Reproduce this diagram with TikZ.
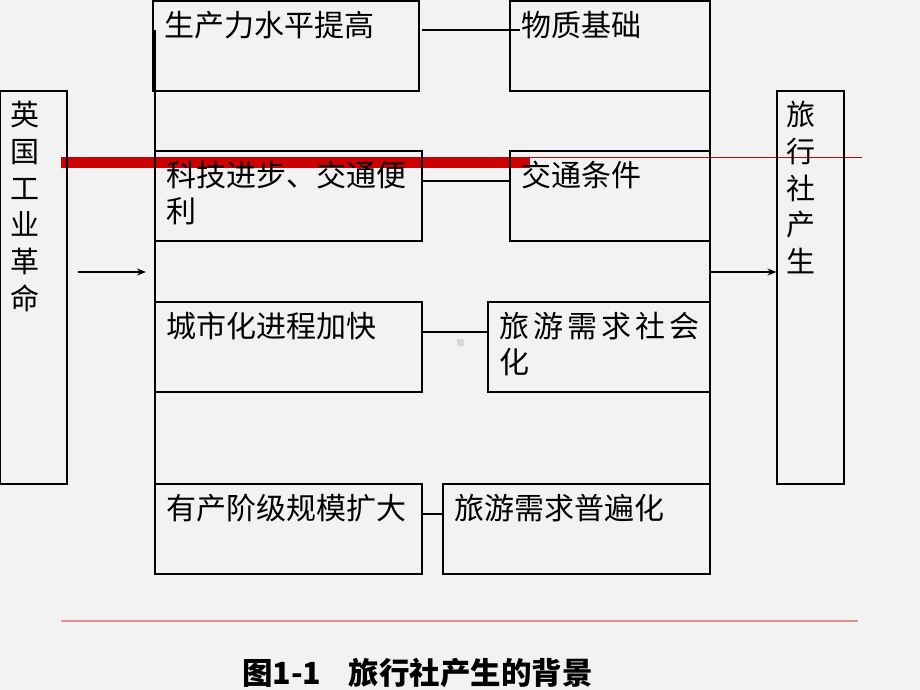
\documentclass[tikz,border=0pt]{standalone}
\usepackage{fontspec}
\setmainfont{Noto Sans CJK SC}
\usepackage{tikz}
\usetikzlibrary{arrows.meta, positioning, calc}

\definecolor{barred}{HTML}{CC0000}
\definecolor{linered}{HTML}{E09090}

\tikzset{
  stagebox/.style={draw, line width=2pt, anchor=north west, inner sep=0pt,
    outer sep=0pt, minimum height=90pt},
  sidebox/.style={draw, line width=2pt, anchor=north west, inner sep=0pt,
    outer sep=0pt, minimum width=67pt, minimum height=393pt},
  boxtext/.style={anchor=north west, inner sep=0pt, align=left,
    font=\fontsize{30}{36}\selectfont},
  sidetext/.style={anchor=north west, inner sep=0pt, align=left,
    font=\fontsize{29}{36.8}\selectfont},
  link/.style={line width=2pt},
  arr/.style={line width=2pt, -{Stealth[length=9pt,width=7pt]}}
}

\begin{document}
\begin{tikzpicture}[x=1pt, y=-1pt]
  % Canvas
  \useasboundingbox (0,0) rectangle (920,690);
  \fill[black!5] (0,0) rectangle (920,690);

  % Red rules
  \fill[barred] (61,157) rectangle (530,168);
  \draw[barred, line width=1pt] (530,157.5) -- (862,157.5);
  \draw[linered, line width=2pt] (61,621) -- (858,621);
  \fill[black!15] (457,339) rectangle (464,346);

  % Side boxes
  \node[sidebox] (ind) at (0,91) {};
  \node[sidetext] (indt) at ([shift={(10,10)}]ind.north west) {英\\国\\工\\业\\革\\命};
  \node[sidebox] (res) at (776.5,91) {};
  \node[sidetext] (rest) at ([shift={(10,10)}]res.north west) {旅\\行\\社\\产\\生};

  % Causes (left column)
  \node[stagebox, minimum width=266pt] (prod) at (153,1) {};
  \node[boxtext] (prodt) at ([shift={(11,10)}]prod.north west) {生产力水平提高};
  \node[stagebox, minimum width=267pt] (tech) at (155,151) {};
  \node[boxtext] (techt) at ([shift={(11,10)}]tech.north west) {科技进步、交通便\\利};
  \node[stagebox, minimum width=267pt] (city) at (155,302) {};
  \node[boxtext] (cityt) at ([shift={(11,10)}]city.north west) {城市化进程加快};
  \node[stagebox, minimum width=267pt] (bour) at (155,484) {};
  \node[boxtext] (bourt) at ([shift={(11,10)}]bour.north west) {有产阶级规模扩大};

  % Effects (right column)
  \node[stagebox, minimum width=200pt] (mat) at (510,1) {};
  \node[boxtext] (matt) at ([shift={(11,10)}]mat.north west) {物质基础};
  \node[stagebox, minimum width=200pt] (traf) at (510,151) {};
  \node[boxtext] (traft) at ([shift={(11,10)}]traf.north west) {交通条件};
  \node[stagebox, minimum width=222pt] (soc) at (488,302) {};
  \node[boxtext] (soct) at ([shift={(11,10)}]soc.north west) {旅\hspace{4pt}游\hspace{4pt}需\hspace{4pt}求\hspace{4pt}社\hspace{4pt}会\\化};
  \node[stagebox, minimum width=267pt] (gen) at (443,484) {};
  \node[boxtext] (gent) at ([shift={(11,10)}]gen.north west) {旅游需求普遍化};

  % Links between pairs
  \draw[link] ([shift={(3,29)}]prod.north east) -- ([shift={(10,29)}]mat.north west);
  \draw[link] ([yshift=-30pt]tech.north east) -- ([yshift=-30pt]traf.north west);
  \draw[link] ([yshift=-30pt]city.north east) -- ([yshift=-30pt]soc.north west);
  \draw[link] ([yshift=-30pt]bour.north east) -- ([yshift=-30pt]gen.north west);

  % Frame lines
  \coordinate (ftl) at (155,30);
  \coordinate (fbl) at (155,575);
  \coordinate (ftr) at (710,60);
  \coordinate (fbr) at (710,575);
  \draw[link] (ftl) -- (fbl);
  \draw[link] (ftr) -- (fbr);

  % Arrows
  \coordinate (inA) at (78,272);
  \coordinate (inB) at (146,272);
  \coordinate (outA) at (710,272);
  \draw[arr] (inA) -- (inB);
  \draw[arr] (outA) -- (outA -| res.west);

  % Caption
  \node[anchor=west, inner sep=0pt, font=\fontsize{30.5}{34}\bfseries] (cap) at (242,673)
    {图1-1\hspace{27pt}旅行社产生的背景};
\end{tikzpicture}
\end{document}
